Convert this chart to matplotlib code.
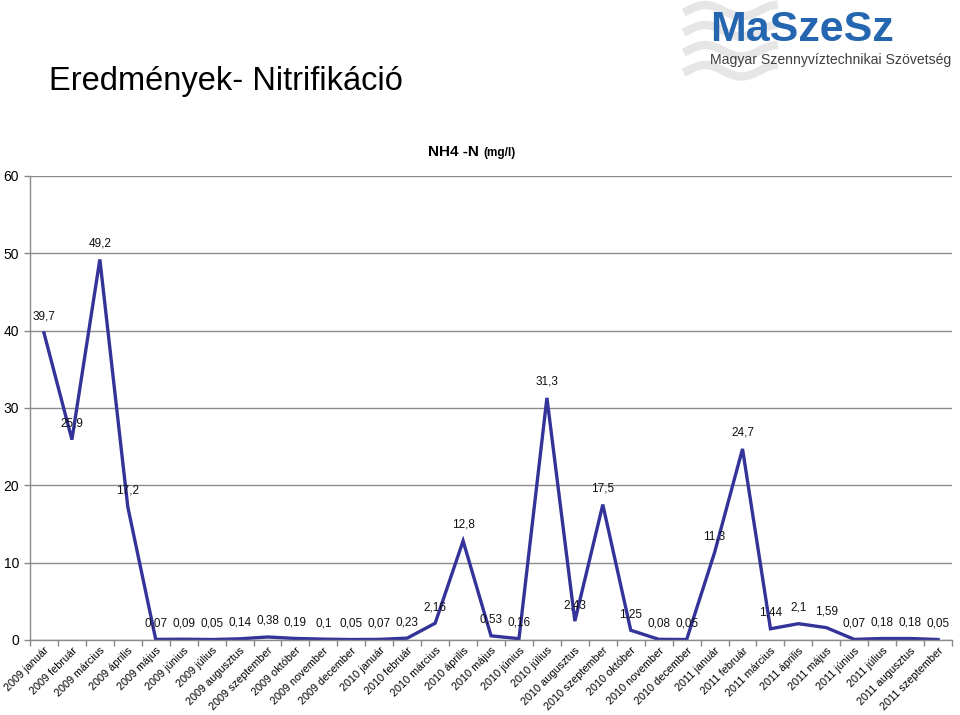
import numpy as np
import matplotlib
matplotlib.use("Agg")
import matplotlib.pyplot as plt

plt.rcParams["font.family"] = ["Liberation Sans", "DejaVu Sans"]

# months and NH4-N values (mg/l)
months = [
    "2009 január", "2009 február", "2009 március", "2009 április", "2009 május",
    "2009 június", "2009 július", "2009 augusztus", "2009 szeptember",
    "2009 október", "2009 november", "2009 december",
    "2010 január", "2010 február", "2010 március", "2010 április", "2010 május",
    "2010 június", "2010 július", "2010 augusztus", "2010 szeptember",
    "2010 október", "2010 november", "2010 december",
    "2011 január", "2011 február", "2011 március", "2011 április", "2011 május",
    "2011 június", "2011 július", "2011 augusztus", "2011 szeptember",
]
nh4 = [39.7, 25.9, 49.2, 17.2, 0.07, 0.09, 0.05, 0.14, 0.38, 0.19, 0.1, 0.05,
       0.07, 0.23, 2.16, 12.8, 0.53, 0.16, 31.3, 2.43, 17.5, 1.25, 0.08, 0.05,
       11.3, 24.7, 1.44, 2.1, 1.59, 0.07, 0.18, 0.18, 0.05]
yticks = [0, 10, 20, 30, 40, 50, 60]

fig = plt.figure(figsize=(9.6, 7.15), dpi=100)
ax = fig.add_axes([0.03125, 0.105, 0.9605, 0.649])

x = np.arange(len(months))
ax.plot(x, nh4, color="#333399", lw=2.4, solid_joinstyle="miter")

for xi, v in zip(x, nh4):
    lab = f"{v:g}".replace(".", ",")
    ax.annotate(lab, (xi, v), xytext=(0, 16), textcoords="offset pixels",
                ha="center", va="center", fontsize=8.5, color="#111111")

ax.set_xlim(-0.5, len(months) - 0.5)
ax.set_ylim(0, 60)
ax.set_yticks(yticks)
ax.set_yticklabels([str(t) for t in yticks], fontsize=10)
ax.set_xticks(x)
ax.set_xticklabels(months, rotation=45, ha="right", va="top",
                   rotation_mode="anchor", fontsize=7.8)
ax.tick_params(axis="x", which="major", length=0, pad=4)
ax.set_xticks(np.arange(-0.5, len(months)), minor=True)
ax.tick_params(axis="x", which="minor", length=4, color="#888888", width=1)
ax.tick_params(axis="y", length=4, color="#888888", width=1, pad=4)

ax.grid(axis="y", color="#8c8c8c", lw=1)
ax.set_axisbelow(True)
for s in ("top", "right"):
    ax.spines[s].set_visible(False)
for s in ("left", "bottom"):
    ax.spines[s].set_color("#8c8c8c")
    ax.spines[s].set_linewidth(1)

# chart title
fig.text(0.4985, 0.787, "NH4 -N", ha="right", va="center",
         fontsize=11, fontweight="bold")
fig.text(0.5035, 0.786, "(mg/l)", ha="left", va="center",
         fontsize=8.5, fontweight="bold")

# slide title
fig.text(0.051, 0.886, "Eredmények- Nitrifikáció", ha="left", va="center",
         fontsize=23.5)

# logo: faint waves behind the name
t = np.linspace(0, 1, 60)
for k in range(4):
    yy = 0.985 - 0.028 * k + 0.008 * np.sin(2 * np.pi * t * 1.2)
    fig.add_artist(plt.Line2D(0.716 + 0.09 * t, yy, color="#e6e6e6", lw=6,
                              transform=fig.transFigure, zorder=0))
fig.text(0.740, 0.958, "MaSzeSz", ha="left", va="center", fontsize=31,
         fontweight="bold", color="#2566b0")
fig.text(0.740, 0.916, "Magyar Szennyvíztechnikai Szövetség", ha="left",
         va="center", fontsize=10.1, color="#3f3f3f")

fig.savefig("out.png", dpi=100)
